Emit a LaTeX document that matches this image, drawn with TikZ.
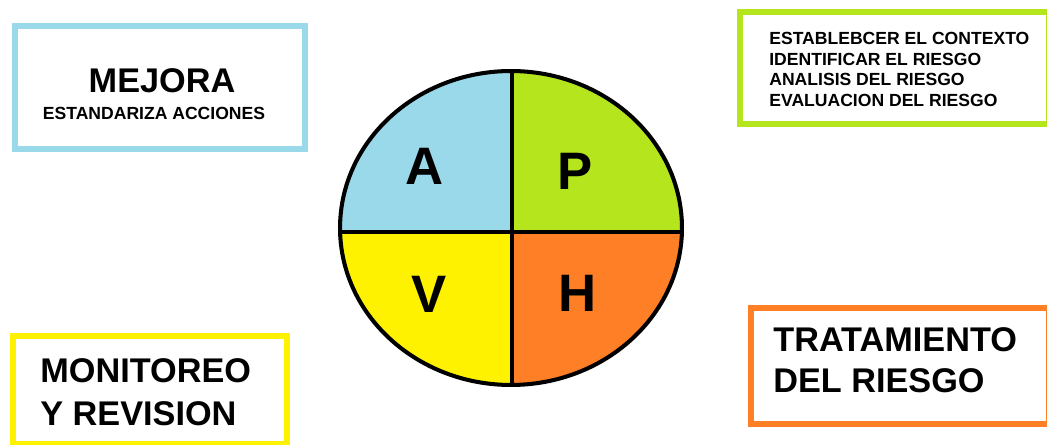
\documentclass[tikz,border=0pt]{standalone}
\usepackage{fontspec}
\setmainfont{Liberation Sans}
\usepackage{xcolor}
\definecolor{actblue}{HTML}{99D9EA}
\definecolor{plangreen}{HTML}{B5E61D}
\definecolor{verifyellow}{HTML}{FFF200}
\definecolor{doorange}{HTML}{FF7F27}

\begin{document}
\begin{tikzpicture}[x=0.02cm, y=-0.02cm]
\tikzstyle{box} = [rectangle, draw, line width=3.4pt, fill=white, inner sep=0pt, outer sep=0pt]
\tikzstyle{bigtext} = [inner sep=0pt, anchor=base, font=\bfseries\fontsize{19.5}{24}\selectfont]
\tikzstyle{smalltext} = [inner sep=0pt, font=\bfseries\fontsize{10}{11.7}\selectfont]
\tikzstyle{letter} = [inner sep=0pt, anchor=base, font=\bfseries\fontsize{30}{36}\selectfont]

\useasboundingbox (0,0) rectangle (1047,445);
\clip (0,0) rectangle (1047,445);

% circle
\begin{scope}
\clip (511,228) ellipse [x radius=3.42cm, y radius=3.14cm];
\fill[actblue] (300,50) rectangle (512,232);
\fill[plangreen] (512,50) rectangle (700,232);
\fill[verifyellow] (300,232) rectangle (512,400);
\fill[doorange] (512,232) rectangle (700,400);
\draw[line width=2.3pt] (512,60) -- (512,395);
\draw[line width=2.3pt] (330,232) -- (690,232);
\end{scope}
\draw[line width=2.3pt] (511,228) ellipse [x radius=3.42cm, y radius=3.14cm];

\node (a) [letter] at (425,185) {A};
\node (p) [letter] at (575,190) {P};
\node (v) [letter] at (429,313) {V};
\node (h) [letter] at (578,312) {H};

% boxes
\node (mejorabox) [box, draw=actblue, minimum width=5.8cm, minimum height=2.46cm] at (160,87.5) {};
\node (mejora) [bigtext] at (162,93) {MEJORA};
\node (estandariza) [smalltext, anchor=base] at (154,120) {ESTANDARIZA ACCIONES};

\node (planbox) [box, draw=plangreen, minimum width=6.18cm, minimum height=2.24cm] at (894.5,68) {};
\node (plan) [smalltext, anchor=base west, align=left] at (769,106.5) {ESTABLEBCER EL CONTEXTO\\IDENTIFICAR EL RIESGO\\ANALISIS DEL RIESGO\\EVALUACION DEL RIESGO};

\node (verifbox) [box, draw=verifyellow, minimum width=5.48cm, minimum height=2.16cm] at (150,390) {};
\node (monitoreo) [bigtext, anchor=base west] at (40,382) {MONITOREO};
\node (revision) [bigtext, anchor=base west] at (40,425) {Y REVISION};

\node (tratbox) [box, draw=doorange, minimum width=5.96cm, minimum height=2.32cm] at (900,366) {};
\node (tratamiento) [bigtext, anchor=base west] at (773,352) {TRATAMIENTO};
\node (delriesgo) [bigtext, anchor=base west] at (773,393) {DEL RIESGO};
\end{tikzpicture}
\end{document}
